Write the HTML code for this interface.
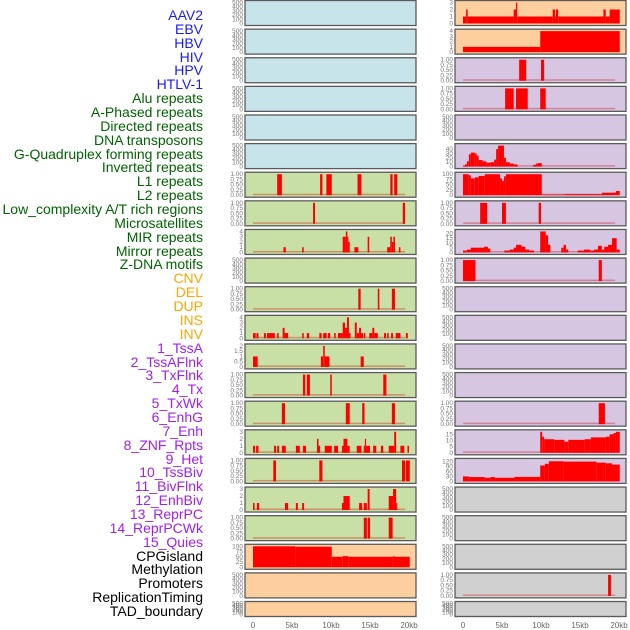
<!DOCTYPE html>
<html><head><meta charset="utf-8">
<style>
body{margin:0;background:#fff;width:630px;height:630px;overflow:hidden;font-family:"Liberation Sans",sans-serif}
#labels div{position:absolute;right:427px;font-size:14px;line-height:14px;white-space:nowrap}
</style></head>
<body>
<div id="labels"></div>
<svg id="chart" width="630" height="630" style="position:absolute;left:0;top:0"></svg>
<script>
const labelNames=["AAV2","EBV","HBV","HIV","HPV","HTLV-1","Alu repeats","A-Phased repeats","Directed repeats","DNA transposons","G-Quadruplex forming repeats","Inverted repeats","L1 repeats","L2 repeats","Low_complexity A/T rich regions","Microsatellites","MIR repeats","Mirror repeats","Z-DNA motifs","CNV","DEL","DUP","INS","INV","1_TssA","2_TssAFlnk","3_TxFlnk","4_Tx","5_TxWk","6_EnhG","7_Enh","8_ZNF_Rpts","9_Het","10_TssBiv","11_BivFlnk","12_EnhBiv","13_ReprPC","14_ReprPCWk","15_Quies","CPGisland","Methylation","Promoters","ReplicationTiming","TAD_boundary"];
const labelGroups=[6,13,5,15,5];
const groupColors=["#1a1aff","#006400","#ffa500","#a020f0","#000000"];
const leftColors=["b","b","b","b","b","b","g","g","g","g","g","g","g","g","g","g","g","g","g","o","o","o"];
const rightColors=["o","o","p","p","p","p","p","p","p","p","p","p","p","p","p","p","p","x","x","x","x","x"];
const fills={b:"#c8e4eb",g:"#c8e0a5",o:"#fecf9e",p:"#d6c6e2",x:"#d0d0d0"};
const E=[500,[0,100,200,300,400,500],[]];
const B01=[1,[0,0.25,0.5,0.75,1]];
const leftPanels=[E,E,E,E,E,E,
[1,B01[1],[[3.1,3.7,1],[8.6,8.9,1],[9.4,10.1,1],[13.4,13.9,1],[17.6,17.9,1],[18.1,18.5,1]]],
[1,B01[1],[[7.7,7.95,1],[19.2,19.5,1]]],
[4,[0,1,2,3,4],[[3.9,4.2,1],[6.3,6.5,1],[11.5,11.9,3],[11.9,12.1,4],[12.1,12.2,3],[12.2,12.4,2],[13,13.5,1],[14.7,14.9,3],[17.2,17.6,1],[17.6,17.8,3],[17.8,18,2],[18,18.2,3],[18.7,18.9,1]]],
E,
[1,B01[1],[[13.5,13.8,1],[16,16.2,1],[17.8,18.2,1]]],
[4,[0,1,2,3,4],[[0,0.35,1],[0.45,0.7,1],[1.4,1.65,1],[1.8,2.8,1],[3.1,3.3,1],[3.8,4.05,2],[4.05,4.5,1],[6.3,6.5,1],[6.9,7.2,1],[8.5,8.8,1],[9,9.45,1],[9.6,9.9,1],[10.4,10.6,1],[10.9,11.5,1],[11.5,11.8,3],[11.8,12.05,2],[12.05,12.3,4],[12.3,12.5,1],[13.05,13.3,3],[13.3,13.6,1],[13.6,13.85,2],[13.85,14.1,1],[14.2,14.4,1],[14.9,15.3,1],[15.3,15.55,2],[15.55,16,1],[16.8,17.05,1],[17.2,17.4,1],[17.7,17.95,1],[18.3,18.9,1],[19.6,19.85,1]]],
[2,[0,0.5,1,1.5,2],[[0,0.6,1],[8.7,9,1],[9,9.2,2],[9.2,9.8,1],[13.8,14.2,1]]],
[1,B01[1],[[6.4,6.7,1],[6.9,7.3,1],[9.9,10.1,1],[16.7,17.1,1]]],
[1,B01[1],[[3.7,4.1,1],[11.9,12.4,1],[14,14.3,1],[17.8,18.2,1]]],
[3,[0,1,2,3],[[0,0.25,1],[0.4,0.7,1],[2.7,2.95,1],[3.1,3.35,1],[3.7,4.2,1],[5.5,6,1],[6.4,6.8,1],[8.2,8.4,2],[8.4,8.6,1],[9.2,10.1,1],[10.4,10.9,1],[11.4,11.6,1],[11.6,12.1,2],[12.1,12.4,1],[13.3,13.9,1],[14.2,14.35,1],[14.35,14.5,2],[14.5,15,1],[15.4,15.8,1],[16.4,16.7,1],[17.4,18.1,1],[18.1,18.35,3],[18.9,19.4,1],[19.8,20,1]]],
[1,B01[1],[[2.6,2.95,1],[8.5,8.9,1],[19.1,19.5,1],[19.6,20.1,1]]],
[3,[0,1,2,3],[[0,0.2,1],[0.5,0.8,1],[4.1,4.5,1],[5.5,5.75,1],[6.3,6.55,1],[11.4,11.6,1],[11.6,12.4,2],[13.6,14,1],[14.2,14.6,1],[14.7,14.95,3],[17.4,17.95,2],[17.95,18.35,3],[18.35,18.5,1]]],
[1,B01[1],[[14.2,14.6,1],[14.7,15,1],[17.4,17.9,1]]],
[100,[0,25,50,75,100],[[0,5.4,100],[5.4,10.1,98],[10.1,11.5,50],[11.5,12.2,53],[12.2,17.9,50],[17.9,18.2,52],[18.2,20.1,50]]],
E,E];
const rightPanels=[
[3,[0,1,2,3],[[0,0.4,1],[0.4,0.6,2],[0.6,6.5,1],[6.5,6.8,2],[6.8,6.95,3],[6.95,11.5,1],[11.5,11.8,2],[11.8,11.9,1],[11.9,12.2,2],[12.2,18,1],[18,18.3,2],[18.3,18.8,1],[18.8,20.1,2]]],
[4,[0,1,2,3,4],[[0,9.9,1],[9.9,20.1,4]]],
[1,B01[1],[[7.2,8.1,1],[10,10.4,1]]],
[1,B01[1],[[5.4,6.5,1],[6.8,8.3,1],[9.9,10.6,1]]],
E,
[48,[0,10,20,30,40],[[0,0.25,2],[0.25,0.5,5],[0.5,0.75,12],[0.75,1.0,28],[1.0,1.5,32],[1.5,1.75,30],[1.75,2.0,25],[2.0,2.5,15],[2.5,3.0,12],[3.0,3.5,9],[3.5,4.0,10],[4.0,4.25,16],[4.25,4.5,40],[4.5,5.25,48],[5.25,5.5,20],[5.5,6.0,10],[6.0,6.5,7],[6.5,7.0,5],[9.0,9.35,4],[9.35,9.6,7],[9.6,10.1,8]]],
[100,[0,25,50,75,100],[[0,0.75,100],[0.75,1.0,95],[1.0,1.5,80],[1.5,2.0,85],[2.0,2.8,92],[2.8,4.75,100],[4.75,5.0,80],[5.0,5.25,68],[5.25,5.5,90],[5.5,10.1,100],[10.1,13,3],[13,17.8,5],[17.8,19.6,12],[19.6,20.1,20]]],
[1,B01[1],[[2.2,3.1,1],[5,5.5,1],[9.7,10,1]]],
[22,[0,5,10,15,20],[[0,0.5,2],[0.5,1.0,3],[1.0,2.0,5],[2.0,2.7,5],[2.7,3.2,6],[3.2,3.5,4],[5.3,6.0,2],[6.0,6.5,3],[6.5,6.8,5],[6.8,7.5,8],[7.5,8.0,6],[8.0,8.5,3],[8.5,9.1,2],[9.9,10.6,22],[10.6,10.9,18],[10.9,11.2,8],[12.6,12.9,5],[12.9,13.2,8],[13.2,13.5,3],[14.7,15.5,2],[15.5,16.3,3],[16.3,16.8,2],[16.8,17.3,3],[17.3,17.8,7],[17.8,18.1,3],[18.1,18.6,6],[18.6,19.1,8],[19.1,19.7,15],[19.7,20.1,3]]],
[1,B01[1],[[0,1.6,1],[17.4,17.8,1]]],
E,E,E,E,
[1,B01[1],[[17.4,18.2,1]]],
[17,[0,5,10,15],[[9.9,10.15,17],[10.15,10.4,13],[10.4,11.7,11],[11.7,13,10.5],[13,13.5,9],[13.5,15.6,10.5],[15.6,16.4,11],[16.4,18.3,12.5],[18.3,18.8,13],[18.8,19.3,15],[19.3,19.6,16],[19.6,20.1,17]]],
[125,[0,30,60,90,120],[[0,0.75,30],[0.75,2.8,26],[2.8,3.5,22],[3.5,4.1,26],[4.1,6.6,22],[6.6,9.9,27],[9.9,10.5,95],[10.5,11.0,105],[11.0,12.9,120],[12.9,17.1,118],[17.1,18.3,112],[18.3,19.1,108],[19.1,20.1,100]]],
E,E,E,
[1,B01[1],[[18.6,18.97,1]]],
E];
const xTicks=[0,5,10,15,20];
const xTickLabels=["0","5kb","10kb","15kb","20kb"];

const NS="http://www.w3.org/2000/svg";
const svg=document.getElementById('chart');
function mk(t,a,p){const e=document.createElementNS(NS,t);for(const k in a)e.setAttribute(k,a[k]);(p||svg).appendChild(e);return e;}
const PITCH=28.62;
function rowTop(i){return i*PITCH+0.5;}
function rowH(i){return i===21?15:25;}
function xScale(col,kb){return (col?463:253)+kb*7.8;}
function yScale(i,v,max){const t=rowTop(i),h=rowH(i);return t+h-2-(v/max)*(h-4);}

// labels
const lab=document.getElementById('labels');
let gi=0,cnt=0;
labelNames.forEach((n,i)=>{
  while(cnt>=labelGroups[gi]){cnt-=labelGroups[gi];gi++;}
  cnt++;
  const d=document.createElement('div');
  d.textContent=n;
  d.style.top=(8+i*13.86)+'px';
  d.style.color=groupColors[gi];
  
  
  lab.appendChild(d);
});

function drawPanel(col,i,panel,fillKey){
  const x0=col?455:245,w=171,t=rowTop(i),h=rowH(i);
  const g=mk('g',{});
  
  
  mk('rect',{x:x0,y:t,width:w,height:h,fill:fills[fillKey],stroke:'#5a5a5a','stroke-width':1.3},g);
  const max=panel[0],ticks=panel[1],bars=panel[2];
  ticks.forEach(tv=>{
    const y=yScale(i,tv,max);
    const lbl=(max===1)?tv.toFixed(2):String(tv);
    const tx=mk('text',{x:x0-2,y:y+2,'font-size':6.5,fill:'#777','text-anchor':'end'},g);
    tx.textContent=lbl;
    
    
  });
  if(bars.length){
    const bl=mk('rect',{x:xScale(col,0),y:yScale(i,0,max)-1.5,width:19.5*7.8,height:1.5,fill:'rgba(200,0,0,0.35)'},g);
    
    
  }
  bars.forEach(b=>{
    const xa=xScale(col,b[0]),xb=xScale(col,b[1]);
    const ya=yScale(i,b[2],max),yb=yScale(i,0,max);
    const r=mk('rect',{x:xa,y:ya,width:Math.max(1,xb-xa),height:yb-ya,fill:'#ff0000'},g);
    
    
  });
}
leftPanels.forEach((p,i)=>drawPanel(0,i,p,leftColors[i]));
rightPanels.forEach((p,i)=>drawPanel(1,i,p,rightColors[i]));

[0,1].forEach(col=>{
  xTicks.forEach((v,k)=>{
    const t=mk('text',{x:xScale(col,v),y:628,'font-size':8,fill:'#666','text-anchor':'middle'});
    t.textContent=xTickLabels[k];
    
    
  });
});
</script>
</body></html>
